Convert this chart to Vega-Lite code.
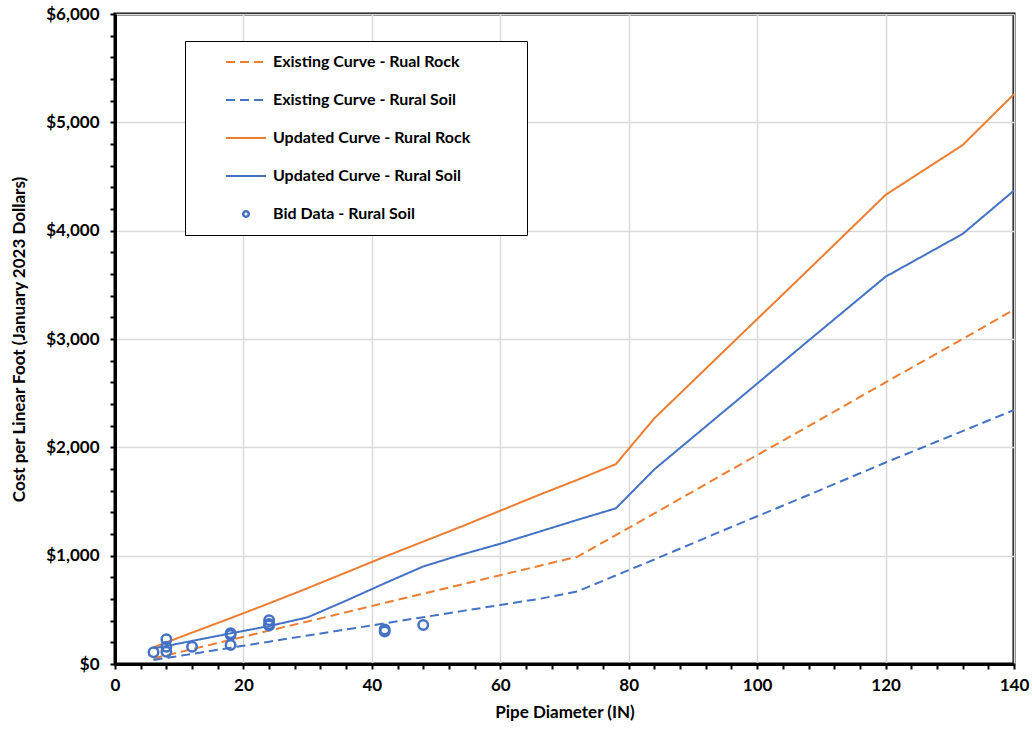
{
  "$schema": "https://vega.github.io/schema/vega-lite/v6.json",
  "width": 899,
  "height": 650,
  "autosize": {"type": "none"},
  "padding": {"left": 115, "top": 14, "right": 18, "bottom": 65},
  "background": "white",
  "config": {
    "font": "Lato",
    "view": {"stroke": "black", "strokeWidth": 3},
    "axis": {
      "domainColor": "black",
      "domainWidth": 3,
      "tickColor": "black",
      "tickWidth": 2,
      "tickSize": 5,
      "labelColor": "black",
      "labelFontSize": 17,
      "labelFontWeight": "bold",
      "labelOverlap": false,
      "labelFlush": false,
      "titleColor": "black",
      "titleFontSize": 17,
      "titleFontWeight": "bold",
      "gridColor": "#d9d9d9",
      "gridWidth": 1.5
    }
  },
  "data": {
    "values": [
      {"series": "Existing Curve - Rual Rock", "x": 6, "y": 52},
      {"series": "Existing Curve - Rual Rock", "x": 12, "y": 137},
      {"series": "Existing Curve - Rual Rock", "x": 18, "y": 222},
      {"series": "Existing Curve - Rual Rock", "x": 24, "y": 308},
      {"series": "Existing Curve - Rual Rock", "x": 30, "y": 393},
      {"series": "Existing Curve - Rual Rock", "x": 36, "y": 478},
      {"series": "Existing Curve - Rual Rock", "x": 42, "y": 564},
      {"series": "Existing Curve - Rual Rock", "x": 48, "y": 649},
      {"series": "Existing Curve - Rual Rock", "x": 54, "y": 734},
      {"series": "Existing Curve - Rual Rock", "x": 60, "y": 820},
      {"series": "Existing Curve - Rual Rock", "x": 66, "y": 905},
      {"series": "Existing Curve - Rual Rock", "x": 72, "y": 990},
      {"series": "Existing Curve - Rual Rock", "x": 84, "y": 1390},
      {"series": "Existing Curve - Rual Rock", "x": 96, "y": 1795},
      {"series": "Existing Curve - Rual Rock", "x": 108, "y": 2195},
      {"series": "Existing Curve - Rual Rock", "x": 120, "y": 2600},
      {"series": "Existing Curve - Rual Rock", "x": 132, "y": 3000},
      {"series": "Existing Curve - Rual Rock", "x": 140, "y": 3270},
      {"series": "Existing Curve - Rural Soil", "x": 6, "y": 37},
      {"series": "Existing Curve - Rural Soil", "x": 12, "y": 93},
      {"series": "Existing Curve - Rural Soil", "x": 18, "y": 150},
      {"series": "Existing Curve - Rural Soil", "x": 24, "y": 206},
      {"series": "Existing Curve - Rural Soil", "x": 30, "y": 263},
      {"series": "Existing Curve - Rural Soil", "x": 36, "y": 319},
      {"series": "Existing Curve - Rural Soil", "x": 42, "y": 375},
      {"series": "Existing Curve - Rural Soil", "x": 48, "y": 432},
      {"series": "Existing Curve - Rural Soil", "x": 54, "y": 488},
      {"series": "Existing Curve - Rural Soil", "x": 60, "y": 545},
      {"series": "Existing Curve - Rural Soil", "x": 66, "y": 600},
      {"series": "Existing Curve - Rural Soil", "x": 72, "y": 670},
      {"series": "Existing Curve - Rural Soil", "x": 84, "y": 965},
      {"series": "Existing Curve - Rural Soil", "x": 96, "y": 1265},
      {"series": "Existing Curve - Rural Soil", "x": 108, "y": 1560},
      {"series": "Existing Curve - Rural Soil", "x": 120, "y": 1860},
      {"series": "Existing Curve - Rural Soil", "x": 132, "y": 2150},
      {"series": "Existing Curve - Rural Soil", "x": 140, "y": 2345},
      {"series": "Updated Curve - Rural Rock", "x": 6, "y": 154},
      {"series": "Updated Curve - Rural Rock", "x": 12, "y": 290},
      {"series": "Updated Curve - Rural Rock", "x": 18, "y": 423},
      {"series": "Updated Curve - Rural Rock", "x": 24, "y": 560},
      {"series": "Updated Curve - Rural Rock", "x": 30, "y": 700},
      {"series": "Updated Curve - Rural Rock", "x": 36, "y": 845},
      {"series": "Updated Curve - Rural Rock", "x": 42, "y": 990},
      {"series": "Updated Curve - Rural Rock", "x": 48, "y": 1130},
      {"series": "Updated Curve - Rural Rock", "x": 54, "y": 1270},
      {"series": "Updated Curve - Rural Rock", "x": 60, "y": 1415},
      {"series": "Updated Curve - Rural Rock", "x": 66, "y": 1560},
      {"series": "Updated Curve - Rural Rock", "x": 72, "y": 1700},
      {"series": "Updated Curve - Rural Rock", "x": 78, "y": 1845},
      {"series": "Updated Curve - Rural Rock", "x": 84, "y": 2268},
      {"series": "Updated Curve - Rural Rock", "x": 96, "y": 2955},
      {"series": "Updated Curve - Rural Rock", "x": 108, "y": 3640},
      {"series": "Updated Curve - Rural Rock", "x": 120, "y": 4330},
      {"series": "Updated Curve - Rural Rock", "x": 132, "y": 4790},
      {"series": "Updated Curve - Rural Rock", "x": 140, "y": 5260},
      {"series": "Updated Curve - Rural Soil", "x": 6, "y": 145},
      {"series": "Updated Curve - Rural Soil", "x": 8, "y": 166},
      {"series": "Updated Curve - Rural Soil", "x": 12, "y": 213},
      {"series": "Updated Curve - Rural Soil", "x": 18, "y": 283},
      {"series": "Updated Curve - Rural Soil", "x": 24, "y": 350},
      {"series": "Updated Curve - Rural Soil", "x": 30, "y": 431},
      {"series": "Updated Curve - Rural Soil", "x": 36, "y": 585},
      {"series": "Updated Curve - Rural Soil", "x": 42, "y": 745},
      {"series": "Updated Curve - Rural Soil", "x": 48, "y": 900},
      {"series": "Updated Curve - Rural Soil", "x": 54, "y": 1010},
      {"series": "Updated Curve - Rural Soil", "x": 60, "y": 1110},
      {"series": "Updated Curve - Rural Soil", "x": 66, "y": 1220},
      {"series": "Updated Curve - Rural Soil", "x": 72, "y": 1330},
      {"series": "Updated Curve - Rural Soil", "x": 78, "y": 1437},
      {"series": "Updated Curve - Rural Soil", "x": 84, "y": 1797},
      {"series": "Updated Curve - Rural Soil", "x": 96, "y": 2390},
      {"series": "Updated Curve - Rural Soil", "x": 108, "y": 2985},
      {"series": "Updated Curve - Rural Soil", "x": 120, "y": 3575},
      {"series": "Updated Curve - Rural Soil", "x": 132, "y": 3970},
      {"series": "Updated Curve - Rural Soil", "x": 140, "y": 4370},
      {"series": "Bid Data - Rural Soil", "x": 6, "y": 108},
      {"series": "Bid Data - Rural Soil", "x": 8, "y": 228},
      {"series": "Bid Data - Rural Soil", "x": 8, "y": 160},
      {"series": "Bid Data - Rural Soil", "x": 8, "y": 114},
      {"series": "Bid Data - Rural Soil", "x": 12, "y": 160},
      {"series": "Bid Data - Rural Soil", "x": 18, "y": 283},
      {"series": "Bid Data - Rural Soil", "x": 18, "y": 268},
      {"series": "Bid Data - Rural Soil", "x": 18, "y": 175},
      {"series": "Bid Data - Rural Soil", "x": 24, "y": 405},
      {"series": "Bid Data - Rural Soil", "x": 24, "y": 370},
      {"series": "Bid Data - Rural Soil", "x": 24, "y": 355},
      {"series": "Bid Data - Rural Soil", "x": 42, "y": 318},
      {"series": "Bid Data - Rural Soil", "x": 42, "y": 300},
      {"series": "Bid Data - Rural Soil", "x": 48, "y": 360}
    ]
  },
  "encoding": {
    "x": {
      "field": "x",
      "type": "quantitative",
      "scale": {"domain": [0, 140], "nice": false},
      "axis": {
        "title": "Pipe Diameter (IN)",
        "values": [0,4,8,12,16,20,24,28,32,36,40,44,48,52,56,60,64,68,72,76,80,84,88,92,96,100,104,108,112,116,120,124,128,132,136,140],
        "labelExpr": "datum.value % 20 === 0 ? datum.label : ''",
        "gridOpacity": {"condition": {"test": "datum.value % 20 === 0", "value": 1}, "value": 0},
        "labelPadding": 8,
        "titlePadding": 11
      }
    },
    "y": {
      "field": "y",
      "type": "quantitative",
      "scale": {"domain": [0, 6000], "nice": false},
      "axis": {
        "title": "Cost per Linear Foot (January 2023 Dollars)",
        "values": [0,200,400,600,800,1000,1200,1400,1600,1800,2000,2200,2400,2600,2800,3000,3200,3400,3600,3800,4000,4200,4400,4600,4800,5000,5200,5400,5600,5800,6000],
        "labelExpr": "datum.value % 1000 === 0 ? format(datum.value, '$,.0f') : ''",
        "gridOpacity": {"condition": {"test": "datum.value % 1000 === 0", "value": 1}, "value": 0},
        "labelPadding": 11,
        "titlePadding": 17
      }
    },
    "color": {
      "field": "series",
      "type": "nominal",
      "scale": {
        "domain": ["Existing Curve - Rual Rock", "Existing Curve - Rural Soil", "Updated Curve - Rural Rock", "Updated Curve - Rural Soil", "Bid Data - Rural Soil"],
        "range": ["#ED7D31", "#4472C4", "#ED7D31", "#4472C4", "#4472C4"]
      },
      "legend": {
        "orient": "none",
        "legendX": 70,
        "legendY": 27,
        "title": null,
        "strokeColor": "black",
        "fillColor": "white",
        "padding": 6,
        "symbolSize": 1600,
        "symbolStrokeWidth": 2,
        "clipHeight": 30,
        "rowPadding": 8,
        "symbolOffset": 47,
        "labelOffset": 19,
        "labelLimit": 600,
        "labelFontSize": 16,
        "labelFontWeight": "bold",
        "labelColor": "black",
        "labelExpr": "datum.label + '\u00a0\u00a0\u00a0\u00a0\u00a0\u00a0\u00a0\u00a0\u00a0\u00a0\u00a0\u00a0\u00a0\u200b'",
        "encode": {
          "symbols": {
            "update": {
              "shape": {"signal": "datum.value === 'Bid Data - Rural Soil' ? 'circle' : 'stroke'"},
              "size": {"signal": "datum.value === 'Bid Data - Rural Soil' ? 30 : 1600"},
              "strokeDash": {"signal": "indexof(datum.value, 'Existing') === 0 ? [9, 5] : [1, 0]"},
              "strokeWidth": {"signal": "datum.value === 'Bid Data - Rural Soil' ? 2.5 : 2"},
              "fill": {"value": "transparent"},
              "stroke": {"scale": "color", "field": "value"}
            }
          }
        }
      }
    }
  },
  "layer": [
    {
      "transform": [{"filter": "datum.series !== 'Bid Data - Rural Soil'"}],
      "mark": {"type": "line", "strokeWidth": 2},
      "encoding": {
        "strokeDash": {
          "field": "series",
          "type": "nominal",
          "scale": {
            "domain": ["Existing Curve - Rual Rock", "Existing Curve - Rural Soil", "Updated Curve - Rural Rock", "Updated Curve - Rural Soil"],
            "range": [[9, 5], [9, 5], [1, 0], [1, 0]]
          },
          "legend": null
        }
      }
    },
    {
      "transform": [{"filter": "datum.series === 'Bid Data - Rural Soil'"}],
      "mark": {"type": "point", "shape": "circle", "filled": false, "size": 90, "strokeWidth": 2.5, "opacity": 1}
    }
  ]
}
